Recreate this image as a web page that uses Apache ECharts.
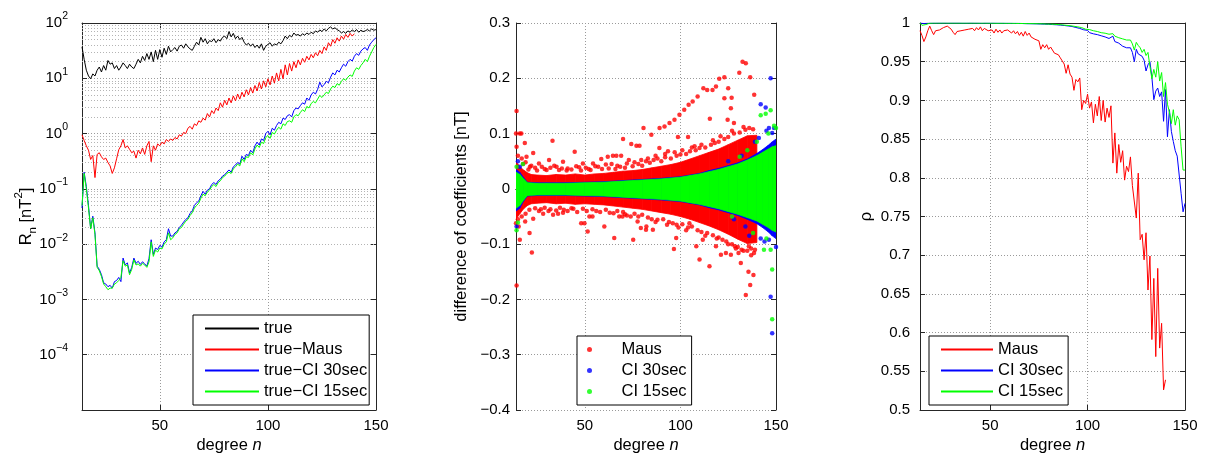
<!DOCTYPE html>
<html><head><meta charset="utf-8">
<script src="https://cdn.jsdelivr.net/npm/echarts@6/dist/echarts.min.js"></script>
<style>html,body{margin:0;padding:0;background:#fff}#c{width:1207px;height:458px}</style>
</head><body><div id="c"></div>
<script>
// ---------- DATA ----------
const degrees = Array.from({length: 137}, (_, i) => 14 + i);          // n = 14..150
const mausDegrees = Array.from({length: 127}, (_, i) => 14 + i);      // n = 14..140

// Panel 1: R_n [nT^2]
const rnTrue = [37,22,14,11,9.8,12,11,14,16,13,17,14,21,18,19,15,17,14,16,19,17,15,18,16,15,18,22,19,25,21,28,22,30,20,32,22,33,24,35,27,38,30,33,36,31,38,40,35,42,37,34,32,38,45,40,55,45,52,42,48,46,52,44,50,47,55,58,52,70,56,65,52,58,50,55,45,40,43,38,42,36,40,35,42,32,38,41,44,38,42,40,45,42,48,58,52,60,56,66,60,62,58,64,60,66,62,68,64,72,68,75,70,78,72,80,85,78,82,76,72,66,70,65,72,68,75,70,76,68,74,70,72,76,72,78,74,76];
const rnMaus = [0.95,0.75,0.6,0.5,0.34,0.4,0.16,0.42,0.45,0.38,0.34,0.36,0.3,0.26,0.19,0.24,0.35,0.51,0.6,0.78,0.55,0.6,0.52,0.45,0.48,0.36,0.5,0.43,0.55,0.42,0.6,0.72,0.31,0.6,0.5,0.65,0.6,0.7,0.65,0.78,0.72,0.8,0.75,0.85,0.8,0.95,0.9,1.05,1.0,1.25,1.35,1.2,1.5,1.4,1.7,1.6,1.9,1.75,2.3,2.0,2.6,2.3,2.9,2.6,3.6,3.0,4.0,3.3,4.4,3.6,4.8,3.9,5.2,4.2,5.6,4.6,6.2,5.0,6.8,5.4,7.4,5.9,8.4,6.4,9.0,7.0,9.8,7.6,11.0,8.2,12.5,9.0,14.5,9.8,17.5,11.5,18.5,13.5,20,15.5,21.5,17.5,23,19.5,25,21.5,27,23.5,29,25.5,32,28,37,32,44,38,50,43,54,47,58,51,62,55,65,58,64];
const rnCI30 = [0.045,0.2,0.11,0.05,0.019,0.032,0.016,0.004,0.0035,0.0028,0.002,0.0019,0.0017,0.0018,0.0016,0.0021,0.0022,0.0025,0.0021,0.0056,0.0042,0.0046,0.003,0.0038,0.0056,0.0045,0.0049,0.0043,0.0048,0.0044,0.004,0.0055,0.012,0.0065,0.0085,0.008,0.0095,0.0088,0.011,0.012,0.019,0.014,0.014,0.016,0.017,0.02,0.022,0.025,0.028,0.03,0.036,0.04,0.05,0.056,0.06,0.075,0.09,0.08,0.095,0.1,0.12,0.13,0.12,0.14,0.15,0.17,0.18,0.2,0.22,0.2,0.25,0.27,0.3,0.28,0.39,0.34,0.42,0.4,0.5,0.45,0.6,0.7,0.62,0.8,0.75,1.0,1.1,0.95,1.25,1.15,1.4,1.6,1.5,1.9,1.8,2.1,2.2,2.0,2.6,2.9,2.8,3.2,3.6,3.4,4.4,4.0,5.0,5.6,5.2,6.3,8.5,7.0,7.7,8.8,8.3,10.5,12.5,11.5,14,13,15.5,18,16.5,20,22,20.5,25,28,26,31,34,36,32,40,45,50,54];
const rnCI15 = [0.05,0.19,0.1,0.045,0.019,0.03,0.015,0.0038,0.0033,0.0026,0.0019,0.0017,0.0015,0.0016,0.0016,0.0019,0.002,0.0022,0.0025,0.005,0.004,0.0042,0.0028,0.0035,0.0052,0.0042,0.0044,0.004,0.0045,0.0042,0.0038,0.0048,0.011,0.006,0.0078,0.0072,0.0085,0.0082,0.01,0.011,0.016,0.012,0.013,0.015,0.016,0.019,0.02,0.023,0.026,0.028,0.033,0.037,0.045,0.05,0.055,0.068,0.08,0.075,0.088,0.095,0.11,0.12,0.11,0.13,0.14,0.16,0.17,0.19,0.2,0.19,0.23,0.25,0.28,0.26,0.35,0.31,0.38,0.37,0.45,0.41,0.53,0.62,0.56,0.7,0.66,0.85,0.92,0.82,1.05,0.98,1.15,1.3,1.2,1.5,1.4,1.65,1.7,1.6,2.0,2.2,2.1,2.4,2.7,2.5,3.1,2.9,3.5,3.8,3.6,4.2,4.9,4.5,5.0,5.6,5.3,6.4,7.2,6.8,8.0,7.5,8.8,9.8,9.2,10.5,11.5,10.8,13.5,15.5,14.5,17,19,22,20,25,30,36,41];

// Panel 2: difference of coefficients [nT] (dense band envelopes + individually visible points)
const mausBandN  = [14,16,18,20,22,25,30,35,40,45,50,55,60,65,70,75,80,85,90,95,100,105,110,115,120,125,130,135,140];
const mausBandHi = [0.05,0.04,0.034,0.029,0.026,0.025,0.024,0.026,0.025,0.027,0.025,0.027,0.028,0.03,0.032,0.033,0.035,0.038,0.041,0.044,0.048,0.054,0.06,0.066,0.072,0.08,0.088,0.096,0.097];
const mausBandLo = [-0.055,-0.045,-0.036,-0.03,-0.027,-0.026,-0.025,-0.027,-0.026,-0.028,-0.027,-0.028,-0.029,-0.031,-0.033,-0.035,-0.037,-0.04,-0.043,-0.046,-0.05,-0.055,-0.061,-0.067,-0.074,-0.082,-0.091,-0.099,-0.097];
const ciBandN    = [14,16,18,20,25,30,40,50,60,70,80,90,100,105,110,115,120,125,130,135,140,143,146,148,150];
const ci30BandHi = [0.035,0.03,0.02,0.012,0.011,0.011,0.011,0.012,0.013,0.015,0.017,0.019,0.022,0.025,0.028,0.033,0.037,0.042,0.047,0.054,0.064,0.071,0.079,0.085,0.09];
const ci30BandLo = [-0.04,-0.035,-0.022,-0.013,-0.012,-0.012,-0.012,-0.013,-0.014,-0.016,-0.018,-0.02,-0.023,-0.026,-0.029,-0.034,-0.038,-0.043,-0.048,-0.055,-0.063,-0.07,-0.078,-0.085,-0.09];
const ci15BandHi = [0.03,0.026,0.018,0.011,0.01,0.01,0.01,0.011,0.012,0.014,0.016,0.018,0.021,0.024,0.027,0.031,0.035,0.04,0.045,0.052,0.06,0.066,0.072,0.076,0.078];
const ci15BandLo = [-0.035,-0.03,-0.02,-0.012,-0.011,-0.011,-0.011,-0.012,-0.013,-0.015,-0.017,-0.019,-0.022,-0.025,-0.028,-0.032,-0.036,-0.041,-0.046,-0.052,-0.058,-0.064,-0.07,-0.075,-0.078];
const mausPoints = [[14.3,0.141],[14,0.10],[16,0.10],[16.8,0.10],[18.6,0.083],[14.3,0.076],[19.5,0.058],[23,0.065],[17.7,0.045],[21.3,0.04],[26,0.046],[33.1,0.087],[31.3,0.052],[35.2,0.040],[38.6,0.049],[44.7,0.067],[49,0.046],[54.3,0.046],[58.6,0.054],[62,0.058],[64.7,0.060],[66.5,0.06],[69,0.06],[70,0.090],[74.3,0.081],[77,0.078],[78.6,0.078],[80.7,0.110],[79.5,0.052],
 [14,-0.062],[15.4,-0.068],[16,-0.092],[14.3,-0.175],[21.1,-0.080],[22.3,-0.115],[18.8,-0.059],[23,-0.054],[28.2,-0.045],[33.4,-0.047],[36,-0.045],[38.6,-0.043],[48.1,-0.062],[49.8,-0.062],[52.4,-0.050],[54,-0.05],[51.5,-0.077],[60.2,-0.068],[65.4,-0.089],[68,-0.05],[69.7,-0.05],[75.3,-0.092],[77.6,-0.059],[79.3,-0.071],[82,-0.074],
 [84.8,0.098],[89.1,0.110],[91.7,0.113],[94.3,0.119],[96.9,0.125],[99.5,0.134],[102,0.143],[104.3,0.152],[106.4,0.158],[109,0.167],[112,0.182],[114,0.179],[116.8,0.179],[118.6,0.185],[120.3,0.199],[123,0.202],[125,0.182],[126.8,0.165],[126.4,0.146],[128,0.119],[130.8,0.210],[132.5,0.230],[134.2,0.227],[136.5,0.202],[138.6,0.170],[115.4,0.127],[89,0.074],[93.5,0.068],[98.7,0.094],[104,0.094],[107.4,0.077],[123,0.164],[124.7,0.125],
 [82.2,-0.068],[85.6,-0.074],[96.6,-0.109],[97.8,-0.089],[104.7,-0.062],[108.3,-0.104],[110,-0.128],[111.7,-0.092],[115.2,-0.14],[118.6,-0.104],[121.2,-0.119],[123.8,-0.116],[126.4,-0.119],[128.5,-0.104],[130.4,-0.116],[131.6,-0.134],[134.2,-0.192],[136.5,-0.174],[135.6,-0.15],[138.2,-0.156],[135.8,-0.104],[138.5,-0.116],
 [24,0.038],[29,0.036],[34,0.042],[41,0.037],[47,0.039],[52,0.036],[57,0.04],[61,0.044],[67,0.042],[72,0.046],[76,0.048],[27,-0.037],[31,-0.04],[39,-0.038],[44,-0.036],[56,-0.04],[63,-0.043],[71,-0.046],[74,-0.05],[83,0.055],[87,0.06],[92,0.063],[97,0.066],[101,0.07],[106,0.075],[111,0.08],[117,0.088],[121,0.095],[127,0.105],[133,0.112],[87,-0.06],[93,-0.065],[99,-0.07],[103,-0.075],[113,-0.085],[119,-0.09],[125,-0.1],[129,-0.108],[133,-0.112],[137,-0.12],
 [15,0.06],[17,0.055],[19,0.048],[20.5,0.035],[22,0.042],[25,0.033],[27.5,0.04],[30,0.034],[32,0.038],[36.5,0.034],[38,0.037],[40.5,0.033],[43,0.035],[45.5,0.041],[48,0.033],[50.5,0.038],[53,0.034],[55.5,0.041],[59,0.036],[62.5,0.037],[64,0.045],[66,0.036],[68.5,0.04],[71,0.038],[73,0.052],[75,0.041],[78,0.045],[80,0.042],[82,0.05],[84,0.047],[86,0.052],[88,0.055],[90,0.05],[92,0.057],[95,0.055],[98,0.06],[100,0.062],[103,0.063],[105,0.068],[108,0.07],[110,0.074],[113,0.075],[116,0.08],[118,0.083],[120,0.085],[123,0.09],[125,0.094],[128,0.1],[131,0.102],[134,0.107],[136,0.11],[138,0.108],
 [15,-0.055],[17,-0.05],[19,-0.045],[21,-0.038],[24,-0.035],[26,-0.04],[29,-0.034],[32,-0.037],[35,-0.039],[37,-0.034],[41,-0.04],[43,-0.035],[46,-0.042],[49,-0.036],[51,-0.04],[54,-0.037],[58,-0.042],[61,-0.038],[65,-0.044],[67,-0.04],[70,-0.042],[72,-0.048],[76,-0.045],[78,-0.05],[80,-0.047],[83,-0.052],[85,-0.055],[88,-0.056],[91,-0.055],[94,-0.06],[96,-0.062],[98,-0.065],[101,-0.064],[104,-0.07],[106,-0.068],[109,-0.075],[111,-0.078],[114,-0.08],[117,-0.084],[120,-0.088],[122,-0.092],[124,-0.095],[127,-0.1],[130,-0.105],[132,-0.11],[135,-0.112],[137,-0.108],[139,-0.11]];
const ci30Points = [[14.3,-0.068],[16,0.040],[15,0.05],[147.2,0.200],[142,0.153],[144.6,0.147],[146.3,0.110],[148,0.101],[145,0.105],[147.2,-0.195],[148,-0.261],[146.3,-0.092],[144,-0.095],[141,0.092],[139,0.085],[136,-0.085],[142,-0.09],[149,0.11],[150,-0.105],[132,0.06],[128,-0.055],[125,0.05],[134,-0.068]];
const ci15Points = [[17.6,0.045],[14.3,0.04],[14.3,-0.075],[15,-0.061],[147.2,0.142],[144.6,0.136],[142,0.133],[149,0.114],[150,0.11],[148,-0.146],[148,-0.236],[147.2,-0.110],[143.7,-0.11],[146,0.1],[140,0.085],[138,-0.08],[131,0.058],[127,-0.05],[135,0.07],[145,-0.09]];

// Panel 3: rho
const rhoMaus = [0.99,0.984,0.976,0.982,0.99,0.996,0.99,0.985,0.99,0.992,0.991,0.993,0.994,0.995,0.996,0.994,0.992,0.988,0.985,0.989,0.988,0.99,0.989,0.991,0.99,0.992,0.991,0.993,0.99,0.994,0.991,0.995,0.99,0.993,0.991,0.99,0.989,0.991,0.987,0.992,0.988,0.991,0.987,0.99,0.988,0.991,0.989,0.987,0.99,0.986,0.989,0.984,0.988,0.983,0.989,0.984,0.987,0.982,0.984,0.979,0.981,0.977,0.966,0.972,0.968,0.972,0.966,0.969,0.967,0.961,0.96,0.959,0.955,0.951,0.947,0.935,0.946,0.934,0.93,0.913,0.927,0.924,0.929,0.888,0.9,0.896,0.908,0.89,0.898,0.871,0.895,0.88,0.905,0.874,0.9,0.872,0.89,0.878,0.893,0.819,0.858,0.806,0.843,0.82,0.835,0.797,0.815,0.808,0.827,0.79,0.791,0.748,0.806,0.72,0.727,0.694,0.729,0.655,0.699,0.591,0.67,0.569,0.683,0.58,0.612,0.526,0.539];
const rhoCI30 = [1.0,0.9995,0.9993,0.9995,0.9997,0.9998,0.9998,
 0.9999,0.9998,0.9999,0.9999,0.9998,0.9999,0.9999,0.9998,0.9999,0.9999,
 0.9998,0.9999,0.9998,0.9999,0.9999,0.9998,0.9999,0.9998,0.9998,0.9999,
 0.9998,0.9998,0.9999,0.9998,0.9998,0.9997,0.9998,0.9998,0.9997,0.9998,
 0.9997,0.9998,0.9997,0.9997,0.9996,0.9997,0.9996,0.9996,0.9995,0.9996,
 0.9995,0.9995,0.9994,0.9995,0.9993,0.9994,0.9993,0.9992,0.9993,0.9991,
 0.9992,0.999,0.9991,0.9989,0.999,0.9987,0.9988,0.9985,0.9986,0.9983,
 0.9984,0.998,0.9981,0.9977,0.9978,0.9973,0.9974,0.9968,0.9966,0.9962,
 0.996,0.9955,0.9948,0.9942,0.9935,0.993,0.9918,0.9912,0.9895,0.9905,
 0.9875,0.9885,0.986,0.9875,0.985,0.9862,0.9835,0.985,0.982,0.984,
 0.98,0.9815,0.983,0.976,0.978,0.974,0.9745,0.97,0.972,0.968,
 0.966,0.968,0.962,0.95,0.966,0.96,0.962,0.957,0.952,0.938,
 0.946,0.95,0.93,0.901,0.912,0.916,0.905,0.911,0.873,0.914,
 0.853,0.888,0.86,0.847,0.835,0.828,0.826,0.78,0.756,0.767];
const rhoCI15 = [1.0,0.997,0.9965,0.998,0.9993,0.9997,0.9998,
 0.9999,0.9999,0.9999,1.0,0.9999,0.9999,1.0,0.9999,0.9999,1.0,
 0.9999,0.9999,0.9999,1.0,0.9999,0.9999,0.9999,0.9999,0.9999,0.9999,
 0.9999,0.9998,0.9999,0.9999,0.9998,0.9998,0.9999,0.9998,0.9998,0.9998,
 0.9998,0.9998,0.9997,0.9998,0.9997,0.9997,0.9997,0.9996,0.9996,0.9996,
 0.9996,0.9995,0.9995,0.9995,0.9994,0.9994,0.9993,0.9993,0.9992,0.9992,
 0.9992,0.9991,0.9991,0.999,0.999,0.9988,0.9989,0.9987,0.9986,0.9985,
 0.9985,0.9983,0.9983,0.998,0.998,0.9977,0.9976,0.9973,0.997,0.9968,
 0.9966,0.9962,0.9958,0.9954,0.995,0.9945,0.994,0.9935,0.992,0.993,
 0.9915,0.9915,0.99,0.9905,0.989,0.9895,0.9875,0.988,0.9868,0.9872,
 0.9855,0.986,0.9862,0.983,0.9835,0.981,0.9815,0.9795,0.9805,0.978,
 0.977,0.978,0.973,0.965,0.975,0.971,0.968,0.962,0.966,0.958,
 0.962,0.944,0.928,0.94,0.93,0.95,0.925,0.936,0.905,0.923,
 0.895,0.885,0.87,0.888,0.868,0.88,0.875,0.84,0.81,0.81];

const xTicks = [50, 100, 150];

// ---------- CHART ----------
const FONT = '"Liberation Sans", Arial, Helvetica, sans-serif';
const RED = '#ff0000', BLUE = '#0000ff', GREEN = '#00ff00', BLACK = '#000000';
const GRIDLINE = {show: true, lineStyle: {type: [1, 2], color: '#9a9a9a', width: 1}};
const chart = echarts.init(document.getElementById('c'), null, {renderer: 'canvas'});

const grids = [
  {left: 82, top: 23, width: 294, height: 387},
  {left: 516, top: 23, width: 260, height: 387},
  {left: 920, top: 23, width: 265, height: 387}
].map(g => Object.assign({outerBoundsMode: 'none', containLabel: false}, g));

const degName = {
  name: '{a|degree }{i|n}', nameLocation: 'middle', nameGap: 27, nameMoveOverlap: false,
  nameTextStyle: {rich: {a: {fontSize: 16.5, fontFamily: FONT, color: '#000'}, i: {fontSize: 16.5, fontFamily: FONT, fontStyle: 'italic', color: '#000'}}}
};
function xAxes(gi) {
  const base = {gridIndex: gi, type: 'value', min: 14, max: 150, splitNumber: 3,
    axisLine: {show: true, lineStyle: {color: '#262626', width: 1}},
    axisTick: {show: true, inside: true, length: 5, lineStyle: {color: '#262626'}}};
  return [
    Object.assign({}, base, degName, {position: 'bottom',
      axisLabel: {show: true, margin: 8, fontSize: 15, fontFamily: FONT, color: '#000',
        formatter: v => (xTicks.indexOf(v) >= 0 ? String(v) : '')},
      splitLine: GRIDLINE}),
    Object.assign({}, base, {position: 'top', axisLabel: {show: false}, splitLine: {show: false}})
  ];
}
const xAxis = [].concat(xAxes(0), xAxes(1), xAxes(2));

const supStr = e => (e < 0 ? '\u2212' + (-e) : String(e));
function yAxes(gi, extra, labelExtra, name) {
  const base = Object.assign({gridIndex: gi,
    axisLine: {show: true, lineStyle: {color: '#262626', width: 1}},
    axisTick: {show: true, inside: true, length: 5, lineStyle: {color: '#262626'}}}, extra);
  return [
    Object.assign({}, base, name, {position: 'left',
      axisLabel: Object.assign({show: true, fontSize: 15, fontFamily: FONT, color: '#000'}, labelExtra),
      splitLine: GRIDLINE}),
    Object.assign({}, base, {position: 'right', axisLabel: {show: false}, splitLine: {show: false}})
  ];
}
const yAxis = [].concat(
  yAxes(0, {type: 'log', logBase: 10, min: 1e-5, max: 100, splitNumber: 7},
    {margin: 14, formatter: v => { const e = Math.round(Math.log10(v)); return e === -5 ? '' : '{b|10}{e|' + supStr(e) + '}'; },
     rich: {b: {fontSize: 15, fontFamily: FONT, color: '#000', lineHeight: 24, verticalAlign: 'middle'},
            e: {fontSize: 10.5, fontFamily: FONT, color: '#000', lineHeight: 12, verticalAlign: 'top'}}},
    {name: '{a|R}{s|n}{a| [nT}{p|2}{a|]}', nameLocation: 'middle', nameGap: 43, nameMoveOverlap: false,
     nameTextStyle: {rich: {a: {fontSize: 16.5, fontFamily: FONT, color: '#000', lineHeight: 26, verticalAlign: 'middle'},
       s: {fontSize: 11.5, fontFamily: FONT, color: '#000', lineHeight: 12, verticalAlign: 'bottom'},
       p: {fontSize: 11.5, fontFamily: FONT, color: '#000', lineHeight: 12, verticalAlign: 'top'}}}}),
  yAxes(1, {type: 'value', min: -0.4, max: 0.3, interval: 0.1},
    {margin: 6, formatter: v => (Math.abs(v) < 1e-9 ? '0' : (v < 0 ? '\u2212' : '') + Math.abs(v).toFixed(1))},
    {name: 'difference of coefficients [nT]', nameLocation: 'middle', nameGap: 46, nameMoveOverlap: false,
     nameTextStyle: {fontSize: 16.5, fontFamily: FONT, color: '#000'}}),
  yAxes(2, {type: 'value', min: 0.5, max: 1, interval: 0.05},
    {margin: 10, formatter: v => String(+v.toFixed(2))},
    {name: '\u03c1', nameLocation: 'middle', nameGap: 45, nameMoveOverlap: false,
     nameTextStyle: {fontSize: 16.5, fontFamily: FONT, color: '#000'}})
);

// minor grid lines for the log axis (2..9 x 10^k)
const minorGrid = [];
for (let e = -5; e < 2; e++) for (let k = 2; k <= 9; k++) minorGrid.push({yAxis: k * Math.pow(10, e)});

function lineSeries(name, xi, yi, xs, ys, color, extra) {
  return Object.assign({name, type: 'line', xAxisIndex: xi, yAxisIndex: yi, showSymbol: false, symbol: 'none',
    data: xs.map((n, i) => [n, ys[i]]), lineStyle: {color, width: 1}, itemStyle: {color},
    animation: false, clip: true, z: 3}, extra || {});
}
function bandSeries(name, ns, lo, hi, color) {
  return {name, type: 'custom', xAxisIndex: 2, yAxisIndex: 2, clip: true, animation: false, silent: true,
    data: ns.map((n, i) => [n, lo[i], hi[i]]),
    encode: {x: 0, y: [1, 2]},
    renderItem: function (params, api) {
      const i = params.dataIndex;
      if (i >= ns.length - 1) return null;
      const pts = [api.coord([ns[i], hi[i]]), api.coord([ns[i + 1], hi[i + 1]]),
                   api.coord([ns[i + 1], lo[i + 1]]), api.coord([ns[i], lo[i]])];
      return {type: 'polygon', shape: {points: pts}, style: {fill: color, stroke: color, lineWidth: 0.8}};
    }};
}
function dotSeries(name, pts, color) {
  return {name, type: 'scatter', xAxisIndex: 2, yAxisIndex: 2, symbol: 'circle', symbolSize: 4.5,
    data: pts, itemStyle: {color}, animation: false, clip: true, silent: true};
}

const series = [
  lineSeries('true', 0, 0, degrees, rnTrue, BLACK, {markLine: {silent: true, symbol: 'none', z: 1, animation: false,
    label: {show: false}, lineStyle: {type: [1, 2], color: '#b4b4b4', width: 1}, data: minorGrid}}),
  lineSeries('true\u2212Maus', 0, 0, mausDegrees, rnMaus, RED),
  lineSeries('true\u2212CI 30sec', 0, 0, degrees, rnCI30, BLUE),
  lineSeries('true\u2212CI 15sec', 0, 0, degrees, rnCI15, GREEN),
  bandSeries('bandMaus', mausBandN, mausBandLo, mausBandHi, RED),
  dotSeries('Maus', mausPoints, RED),
  bandSeries('band30', ciBandN, ci30BandLo, ci30BandHi, BLUE),
  dotSeries('CI 30sec', ci30Points, BLUE),
  bandSeries('band15', ciBandN, ci15BandLo, ci15BandHi, GREEN),
  dotSeries('CI 15sec', ci15Points, GREEN),
  lineSeries('\u03c1:Maus', 4, 4, mausDegrees, rhoMaus, RED),
  lineSeries('\u03c1:CI 30sec', 4, 4, degrees, rhoCI30, BLUE),
  lineSeries('\u03c1:CI 15sec', 4, 4, degrees, rhoCI15, GREEN)
];

const legendBase = {orient: 'vertical', itemGap: 4, selectedMode: false, borderColor: '#000', borderWidth: 1,
  backgroundColor: '#fff', borderRadius: 0, textStyle: {fontSize: 16.5, fontFamily: FONT, color: '#000', lineHeight: 16.5}};
const legend = [
  Object.assign({}, legendBase, {left: 193, top: 315, itemWidth: 54, itemHeight: 14, padding: [5, 2, 5, 11],
    itemStyle: {opacity: 0},
    data: ['true', 'true\u2212Maus', 'true\u2212CI 30sec', 'true\u2212CI 15sec']}),
  Object.assign({}, legendBase, {left: 577, top: 336, itemWidth: 54, itemHeight: 5, padding: [5, 5, 5, 10],
    data: ['Maus', 'CI 30sec', 'CI 15sec']}),
  Object.assign({}, legendBase, {left: 929, top: 336, itemWidth: 52, itemHeight: 14, padding: [5, 5, 5, 11],
    itemStyle: {opacity: 0},
    data: ['\u03c1:Maus', '\u03c1:CI 30sec', '\u03c1:CI 15sec'], formatter: n => n.slice(2)})
];

chart.setOption({backgroundColor: '#fff', animation: false, grid: grids, xAxis, yAxis, series, legend});
</script></body></html>
